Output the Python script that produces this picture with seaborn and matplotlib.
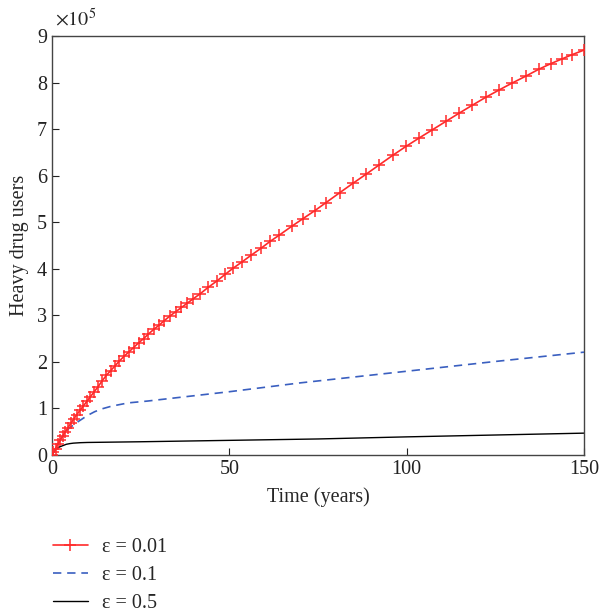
import matplotlib
matplotlib.use("Agg")
import matplotlib.pyplot as plt
import seaborn as sns
import numpy as np

# ---- data (units of 1e5 heavy drug users) ----
t_eps001 = [0, 0.4, 1, 1.6, 2.3, 3, 3.7, 4.5, 5.3, 6.1, 7, 7.9, 8.8, 9.8, 10.8, 11.9,
            13, 14.1, 15.3, 16.5, 17.7, 19, 20.3, 21.6, 23, 24.4, 25.8, 27.2, 28.7,
            30.2, 31.7, 33.3, 34.9, 36.5, 38.1, 39.7, 41.7, 44, 46.5, 48.8, 51, 53.6,
            56.1, 58.9, 61.5, 64, 67.7, 70.8, 74.1, 77.2, 81.2, 84.9, 88.5, 92.2,
            96.1, 99.8, 103.5, 107.1, 111.1, 114.7, 118.4, 122.4, 126, 129.7, 133.6,
            137.3, 140.7, 143.8, 146.6, 150]
y_eps001 = [0, 0.06, 0.14, 0.23, 0.32, 0.41, 0.49, 0.59, 0.68, 0.77, 0.87, 0.96, 1.05,
            1.15, 1.25, 1.36, 1.47, 1.59, 1.71, 1.81, 1.91, 2.02, 2.12, 2.21, 2.31,
            2.41, 2.50, 2.60, 2.70, 2.79, 2.89, 2.99, 3.08, 3.17, 3.26, 3.35, 3.46,
            3.60, 3.74, 3.88, 4.01, 4.15, 4.29, 4.44, 4.59, 4.72, 4.92, 5.08, 5.25,
            5.42, 5.64, 5.84, 6.03, 6.23, 6.44, 6.63, 6.81, 6.98, 7.17, 7.34, 7.51,
            7.69, 7.84, 7.99, 8.14, 8.29, 8.41, 8.51, 8.60, 8.70]

t_eps01 = [0, 1, 2, 3, 4, 5, 6, 7.4, 10, 12, 14, 16.8, 21.5, 27, 35, 50, 70, 100, 125, 150]
y_eps01 = [0, 0.14, 0.28, 0.41, 0.52, 0.59, 0.64, 0.72, 0.85, 0.93, 0.99, 1.05, 1.12,
           1.16, 1.23, 1.36, 1.55, 1.80, 2.01, 2.21]

t_eps05 = [0, 0.5, 1, 2, 3, 4, 5, 6, 8, 10, 15, 25, 50, 75, 100, 125, 150]
y_eps05 = [0, 0.06, 0.12, 0.17, 0.20, 0.23, 0.245, 0.255, 0.265, 0.27, 0.275, 0.285,
           0.315, 0.345, 0.39, 0.43, 0.47]

labels = ["ε = 0.01", "ε = 0.1", "ε = 0.5"]
x_ticks = [0, 50, 100, 150]
y_ticks = list(range(0, 10))

sns.set_style("ticks")
plt.rcParams["font.family"] = ["Liberation Serif", "DejaVu Serif"]
plt.rcParams["mathtext.fontset"] = "stix"

fig = plt.figure(figsize=(6.0, 6.12), dpi=100)
ax = fig.add_axes([0.0867, 0.2565, 0.8866, 0.6845])

red = "#ff2a2a"
sns.lineplot(x=t_eps001, y=y_eps001, ax=ax, color=red, lw=1.2,
             marker="+", markersize=8.5, markeredgewidth=1.1, markeredgecolor=red,
             label=labels[0], zorder=4)
sns.lineplot(x=t_eps01, y=y_eps01, ax=ax, color="#3a5fc0", lw=1.2,
             linestyle=(0, (5, 3.5)), label=labels[1], zorder=3)
sns.lineplot(x=t_eps05, y=y_eps05, ax=ax, color="black", lw=1.0,
             label=labels[2], zorder=2)

ax.set_xlim(0, 150)
ax.set_ylim(0, 9)
ax.set_xticks(x_ticks)
ax.set_yticks(y_ticks)
ax.tick_params(direction="in", length=5, width=0.8, labelsize=14.5, colors="#222222",
               top=False, right=False)
for s in ax.spines.values():
    s.set_visible(True)
    s.set_color("#444444")
    s.set_linewidth(1.0)

ax.set_xlabel("Time (years)", fontsize=14.5, labelpad=6)
ax.set_ylabel("Heavy drug users", fontsize=14.5, labelpad=6)
ax.text(0.005, 1.012, r"$\times10^5$", transform=ax.transAxes, fontsize=14.5,
        ha="left", va="bottom")

leg = ax.legend(loc="upper left", bbox_to_anchor=(0.088, 0.121),
                bbox_transform=fig.transFigure, frameon=False, fontsize=14.5,
                handlelength=1.75, handletextpad=0.7, labelspacing=0.45,
                borderaxespad=0, borderpad=0)

fig.savefig("out.png", dpi=100)
